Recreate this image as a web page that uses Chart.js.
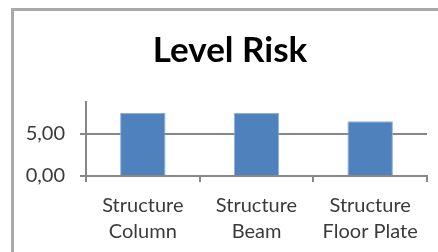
<!DOCTYPE html>
<html>
<head>
<meta charset="utf-8">
<script src="https://cdn.jsdelivr.net/npm/chart.js@4"></script>
<style>
    html, body { margin: 0; padding: 0; background: #fff; overflow: hidden; }
    #wrap { position: relative; width: 438px; height: 252px; }
    /* 外枠（右と下は画面外に切れている） */
    #frame { position: absolute; left: 11px; top: 8px; width: 440px; height: 260px;
             border: 3px solid #a9a9a9; box-sizing: border-box; }
    canvas { position: absolute; left: 0; top: 0; }
</style>
</head>
<body>
<div id="wrap">
    <div id="frame"></div>
    <canvas id="riskChart" width="438" height="252"></canvas>
</div>
<script>
// データ
const categories = [['Structure', 'Column'], ['Structure', 'Beam'], ['Structure', 'Floor Plate']];
const riskValues = [7.5, 7.5, 6.5];
const yTickValues = [0, 5];
const yMax = 8.8;

const axisGrey = '#878787';
const textGrey = '#3a3a3a';

// タイトルを枠の中央に寄せる（左端をずらす）
const shiftTitle = {
    id: 'shiftTitle',
    afterLayout(chart) {
        if (chart.titleBlock) {
            chart.titleBlock.left = 33;
        }
    }
};

const ctx = document.getElementById('riskChart').getContext('2d');

new Chart(ctx, {
    type: 'bar',
    data: {
        labels: categories,
        datasets: [{
            label: 'Level Risk',
            data: riskValues,
            backgroundColor: '#4f81bd',
            borderColor: '#8db0dc',
            borderWidth: 1,
            categoryPercentage: 1,
            barPercentage: 0.4
        }]
    },
    plugins: [shiftTitle],
    options: {
        responsive: false,
        animation: false,
        layout: { padding: { left: 0, right: 11, top: 0, bottom: 0 } },
        plugins: {
            legend: { display: false },
            tooltip: { enabled: false },
            title: {
                display: true,
                text: 'Level Risk',
                color: '#000',
                font: { family: 'Lato', size: 35, weight: 'bold', lineHeight: 1.2 },
                padding: { top: 30, bottom: 30 }
            }
        },
        scales: {
            x: {
                grid: {
                    drawOnChartArea: false,
                    drawTicks: true,
                    tickLength: 6,
                    color: axisGrey,
                    lineWidth: 2
                },
                border: { color: axisGrey, width: 2 },
                ticks: {
                    color: textGrey,
                    padding: 11,
                    maxRotation: 0,
                    font: { family: 'Lato', size: 20, lineHeight: 1.3 }
                },
                afterFit: scale => { scale.height = 76; }
            },
            y: {
                min: 0,
                max: yMax,
                afterBuildTicks: scale => {
                    // 0 と 5 の目盛りだけを残す
                    scale.ticks = yTickValues.map(v => ({ value: v }));
                },
                grid: {
                    drawTicks: true,
                    tickLength: 6,
                    color: axisGrey,
                    lineWidth: 2
                },
                border: { color: axisGrey, width: 2 },
                ticks: {
                    color: textGrey,
                    padding: 15,
                    font: { family: 'Lato', size: 20 },
                    callback: value => value.toFixed(2).replace('.', ',')
                },
                afterFit: scale => { scale.width = 86; }
            }
        }
    }
});
</script>
</body>
</html>
